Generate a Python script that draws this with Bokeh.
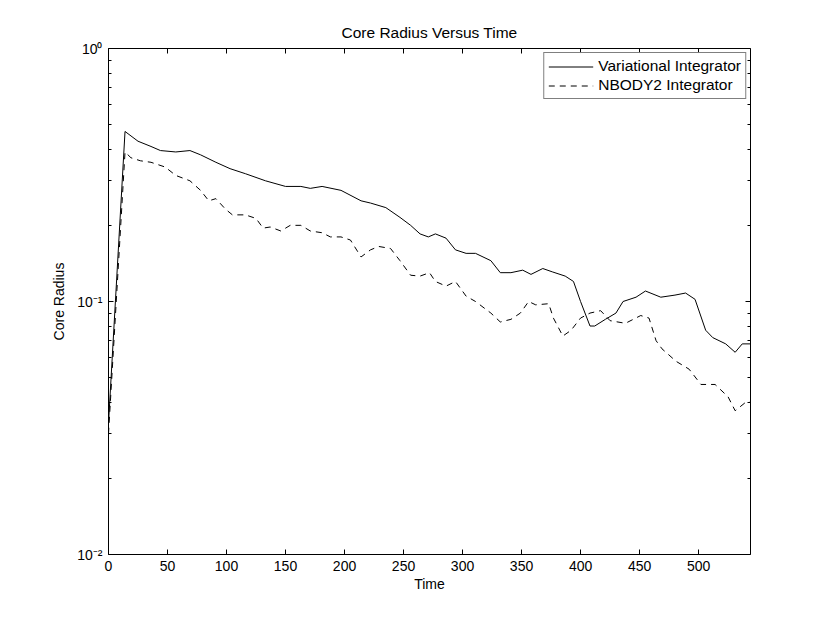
from bokeh.plotting import figure
from bokeh.models import LinearAxis, LogAxis, Range1d, FixedTicker, Legend, LegendItem, CustomJSTickFormatter
from bokeh.embed import file_html
from bokeh.resources import INLINE

# Variational integrator (solid)
t_var = [0, 14, 25, 36, 44, 57, 69, 78, 91, 103, 116, 133, 150, 163, 171, 181, 197, 214, 222,
         235, 247, 256, 264, 271, 277, 286, 294, 303, 311, 324, 332, 341, 351, 358, 368, 376,
         387, 394, 400, 408, 412, 421, 430, 436, 447, 455, 468, 480, 489, 497, 506, 512, 523,
         531, 537, 544]
r_var = [0.033, 0.47, 0.43, 0.41, 0.395, 0.39, 0.395, 0.38, 0.355, 0.335, 0.32, 0.30, 0.285,
         0.285, 0.28, 0.285, 0.275, 0.25, 0.245, 0.235, 0.215, 0.20, 0.185, 0.18, 0.185, 0.178,
         0.16, 0.155, 0.155, 0.145, 0.13, 0.13, 0.133, 0.128, 0.135, 0.131, 0.126, 0.12, 0.10,
         0.08, 0.08, 0.085, 0.09, 0.10, 0.104, 0.11, 0.104, 0.106, 0.108, 0.102, 0.077, 0.072,
         0.068, 0.063, 0.068, 0.068]

# NBODY2 integrator (dashed)
t_nb = [0, 14, 19, 27, 36, 48, 57, 69, 78, 85, 91, 99, 105, 116, 125, 131, 137, 146, 154, 163,
        171, 181, 188, 197, 205, 214, 222, 229, 239, 247, 256, 264, 272, 277, 286, 294, 303, 311,
        324, 332, 341, 349, 356, 362, 373, 377, 385, 392, 400, 408, 417, 425, 438, 451, 458, 464,
        469, 481, 492, 502, 514, 525, 531, 540, 544]
r_nb = [0.030, 0.39, 0.37, 0.36, 0.355, 0.34, 0.315, 0.30, 0.275, 0.25, 0.255, 0.232, 0.22,
        0.22, 0.213, 0.195, 0.197, 0.19, 0.20, 0.20, 0.19, 0.187, 0.18, 0.18, 0.175, 0.15, 0.16,
        0.165, 0.162, 0.145, 0.127, 0.126, 0.13, 0.12, 0.115, 0.12, 0.105, 0.10, 0.09, 0.083,
        0.085, 0.09, 0.10, 0.097, 0.098, 0.086, 0.073, 0.077, 0.086, 0.09, 0.092, 0.084, 0.082,
        0.088, 0.086, 0.07, 0.065, 0.058, 0.054, 0.047, 0.047, 0.042, 0.037, 0.040, 0.040]

x_ticks = [0, 50, 100, 150, 200, 250, 300, 350, 400, 450, 500]
y_ticks = [0.01, 0.1, 1.0]
y_minor = [m * d for d in (0.01, 0.1) for m in range(2, 10)]
y_tick_labels = {0.01: "10⁻²", 0.1: "10⁻¹", 1.0: "10⁰"}
FONT = "Liberation Sans"

p = figure(width=822, height=616, output_backend="svg", toolbar_location=None,
           y_axis_type="log", x_range=Range1d(0, 544), y_range=Range1d(0.01, 1),
           frame_width=642, frame_height=506,
           min_border_left=108, min_border_right=72, min_border_top=48, min_border_bottom=62)

p.title.text = "Core Radius Versus Time"
p.title.align = "center"
p.title.text_font = FONT
p.title.text_font_size = "15.5px"
p.title.text_font_style = "normal"
p.title.text_color = "black"
p.title.offset = 0
p.title.standoff = 15

p.xgrid.visible = False
p.ygrid.visible = False
p.outline_line_color = "black"
p.outline_line_width = 1

def style_axis(ax):
    ax.axis_line_color = None
    ax.major_tick_in = 5
    ax.major_tick_out = 0
    ax.minor_tick_in = 3
    ax.minor_tick_out = 0
    ax.major_tick_line_color = "black"
    ax.minor_tick_line_color = "black"
    ax.major_label_text_font = FONT
    ax.major_label_text_font_size = "14px"
    ax.major_label_text_color = "black"
    ax.axis_label_text_font = FONT
    ax.axis_label_text_font_size = "14px"
    ax.axis_label_text_font_style = "normal"
    ax.axis_label_text_color = "black"

xa = p.xaxis[0]
xa.ticker = FixedTicker(ticks=x_ticks)
xa.axis_label = "Time"
xa.axis_label_standoff = 2
xa.major_label_standoff = 6
style_axis(xa)

ya = p.yaxis[0]
ya.ticker = FixedTicker(ticks=y_ticks, minor_ticks=y_minor)
ya.major_label_overrides = y_tick_labels
ya.axis_label = "Core Radius"
ya.axis_label_standoff = 7
ya.major_label_standoff = 6
style_axis(ya)

blank = CustomJSTickFormatter(code="return ''")

top = LinearAxis(ticker=FixedTicker(ticks=x_ticks), formatter=blank)
style_axis(top)
p.add_layout(top, "above")

right = LogAxis(ticker=FixedTicker(ticks=y_ticks, minor_ticks=y_minor), formatter=blank)
style_axis(right)
p.add_layout(right, "right")

l1 = p.line(t_var, r_var, line_color="black", line_width=1)
l2 = p.line(t_nb, r_nb, line_color="black", line_width=1, line_dash="6 5")

legend = Legend(items=[LegendItem(label="Variational Integrator", renderers=[l1]),
                       LegendItem(label="NBODY2 Integrator", renderers=[l2])],
                location="top_right")
legend.glyph_width = 45
legend.glyph_height = 17
legend.label_text_font = FONT
legend.label_text_font_size = "15.5px"
legend.label_text_color = "black"
legend.label_height = 17
legend.spacing = 1
legend.padding = 4
legend.margin = 4
legend.border_line_color = "black"
legend.border_line_width = 1
legend.label_standoff = 5
p.add_layout(legend, "center")

open("out.html", "w").write(file_html(p, INLINE))
